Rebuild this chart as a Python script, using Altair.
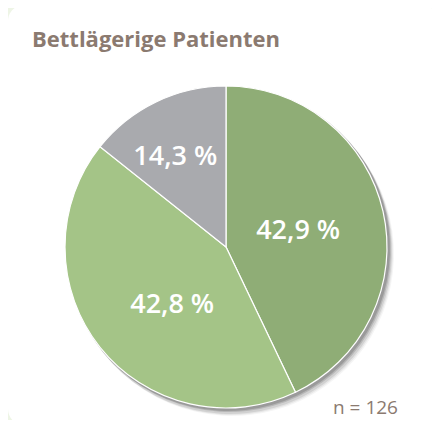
import math
import altair as alt
import pandas as pd

# ---- data ----
categories = ["gruen_dunkel", "gruen_hell", "grau"]
values = [42.9, 42.8, 14.3]
labels = ["42,9 %", "42,8 %", "14,3 %"]
colors = ["#8fad76", "#a4c487", "#a9aaae"]
title_text = ["Bettlägerige Patienten"]
note_text = ["n = 126"]

df = pd.DataFrame({"cat": categories, "value": values, "label": labels,
                   "order": list(range(len(categories)))})

W, H = 424, 412
CX, CY, R = 218, 239, 161
FONT = "Open Sans"
TXT = "#8b7a70"

base = alt.Chart(df)
theta = alt.Theta("value:Q", stack=True)
order = alt.Order("order:Q")

card = alt.Chart(pd.DataFrame({"k": [0]})).mark_rect(
    fill="white", cornerRadius=16
).encode(x=alt.value(0), x2=alt.value(430), y=alt.value(-3), y2=alt.value(417))

shadows = []
for off, op in [((6, 7), 0.04), ((5, 6), 0.06), ((4, 5), 0.09), ((3, 3), 0.13), ((2, 2), 0.15)]:
    shadows.append(
        base.mark_arc(radius=R + 1, fill="black", opacity=op).encode(
            theta=theta, order=order,
            x=alt.value(CX + off[0]), y=alt.value(CY + off[1]))
    )

pie = base.mark_arc(radius=R, stroke="white", strokeWidth=1.2).encode(
    theta=theta, order=order,
    color=alt.Color("cat:N", scale=alt.Scale(domain=categories, range=colors), legend=None),
    x=alt.value(CX), y=alt.value(CY))

# mid angle of each slice, radians (clockwise from top)
lab_base = base.transform_joinaggregate(total="sum(value)").transform_window(
    cum="sum(value)", sort=[alt.SortField("order")], frame=[None, 0]
).transform_calculate(mid="(datum.cum - datum.value / 2) / datum.total * 2 * PI")

label_layers = []
for cat, r, dx, dy in [("gruen_dunkel", 74, 0, 0), ("gruen_hell", 79, 8, 9), ("grau", 103, -6, 3)]:
    label_layers.append(
        lab_base.transform_filter(alt.datum.cat == cat).mark_text(
            radius=r, dx=dx, dy=dy, font=FONT, fontSize=27, fontWeight=600,
            color="white", baseline="middle", align="center"
        ).encode(theta=alt.Theta("mid:Q", scale=None), text="label:N",
                 x=alt.value(CX), y=alt.value(CY))
    )

title = alt.Chart(pd.DataFrame({"t": title_text})).mark_text(
    font=FONT, fontSize=22, fontWeight="bold", color=TXT, align="left", baseline="alphabetic"
).encode(text="t:N", x=alt.value(24), y=alt.value(39))

note = alt.Chart(pd.DataFrame({"t": note_text})).mark_text(
    font=FONT, fontSize=19, color=TXT, align="left", baseline="alphabetic"
).encode(text="t:N", x=alt.value(325), y=alt.value(406))

chart = alt.layer(card, *shadows, pie, *label_layers, title, note).properties(
    width=W, height=H, padding=0, autosize=alt.AutoSizeParams(type="none"),
    background="#eef5e6"
).configure_view(stroke=None)

chart.save("out.html", embed_options={"renderer": "svg", "actions": False})
